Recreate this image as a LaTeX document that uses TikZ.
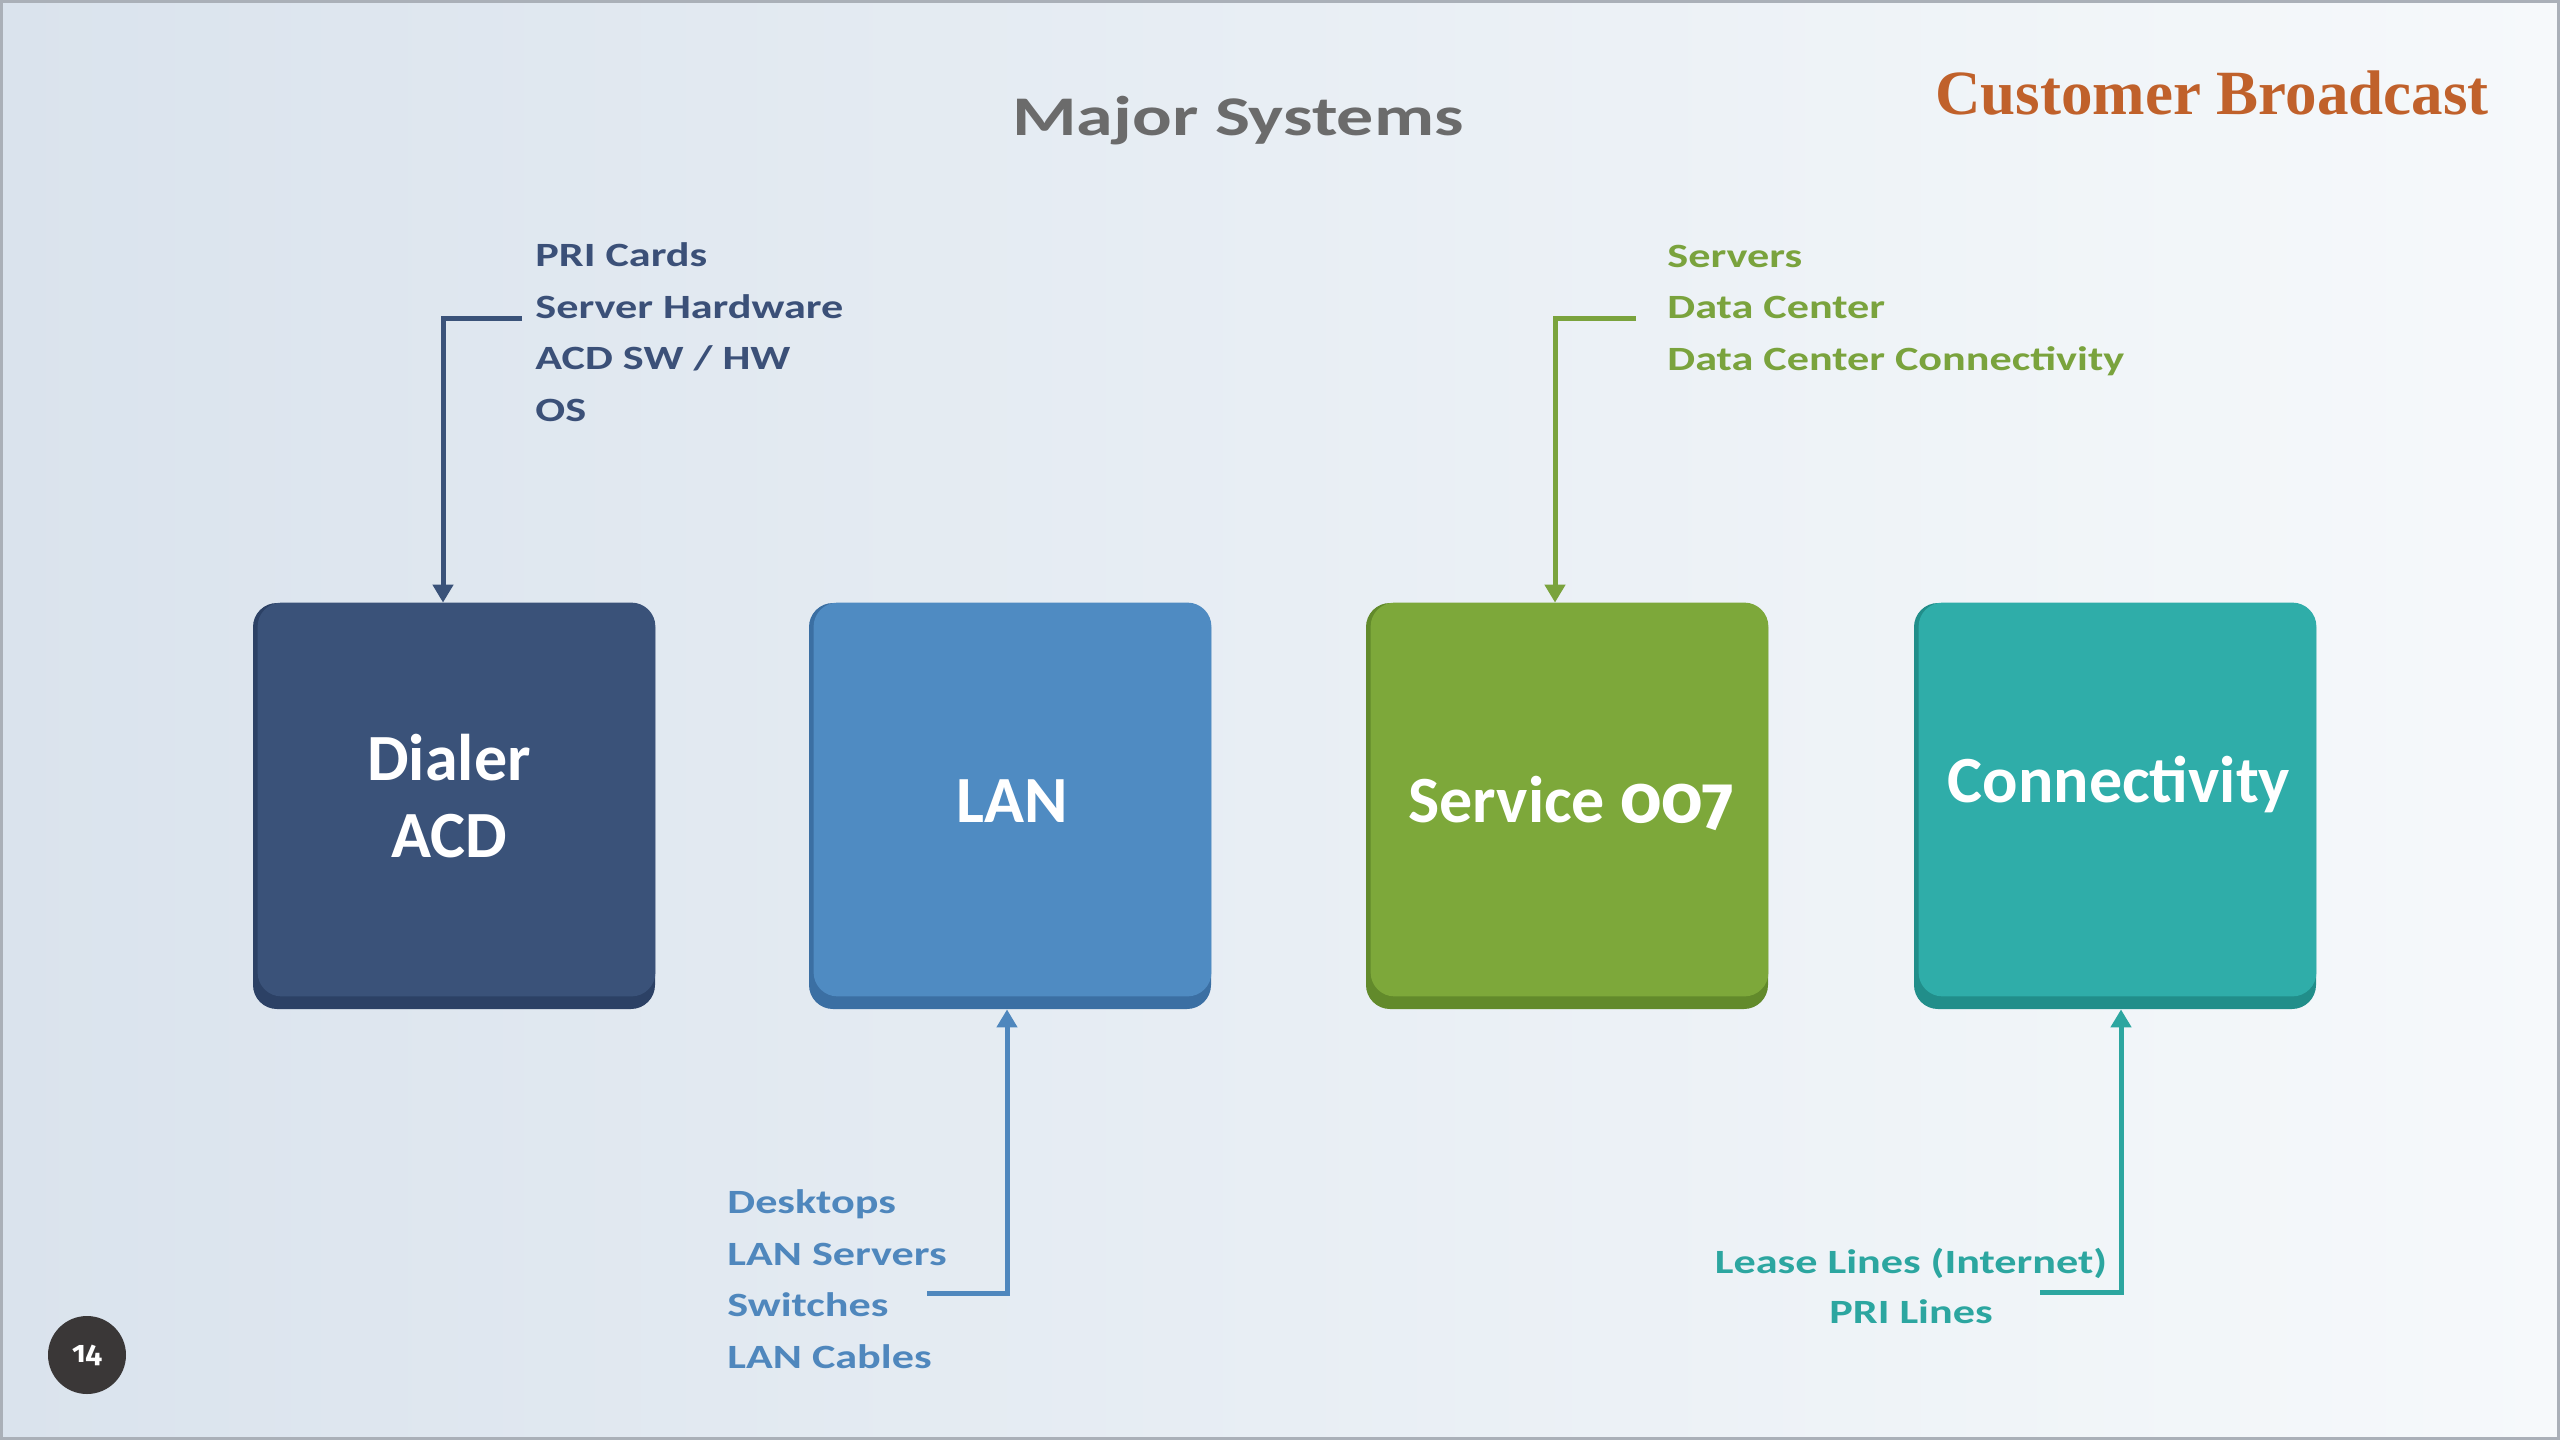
\documentclass[tikz,border=0pt]{standalone}
\usepackage{fontspec}
\setmainfont{Carlito}
\newfontfamily\widefont{Carlito}[FakeStretch=1.3]
\newfontfamily\titlefont{Carlito}[FakeStretch=1.32]
\newfontfamily\numfont{Fira Sans}[Numbers=OldStyle]
\newfontfamily\serifbold{Liberation Serif}
\usetikzlibrary{arrows.meta}
\definecolor{bgL}{RGB}{218,227,237}
\definecolor{bgR}{RGB}{246,249,251}
\definecolor{framec}{RGB}{170,176,184}
\definecolor{dialerF}{HTML}{3A5279}
\definecolor{dialerB}{HTML}{2C4165}
\definecolor{lanF}{HTML}{4F8BC2}
\definecolor{lanB}{HTML}{3B6FA3}
\definecolor{svcF}{HTML}{7DA83A}
\definecolor{svcB}{HTML}{628A2B}
\definecolor{connF}{HTML}{2FADA9}
\definecolor{connB}{HTML}{218E8A}
\definecolor{dialerS}{HTML}{3B5078}
\definecolor{lanS}{HTML}{4F87BD}
\definecolor{svcS}{HTML}{7AA33D}
\definecolor{connS}{HTML}{2CA6A0}
\definecolor{titlegray}{HTML}{6B6B6B}
\definecolor{brand}{HTML}{C0612B}
\definecolor{pgnum}{HTML}{3A3737}
\begin{document}
\begin{tikzpicture}[x=0.5pt,y=-0.5pt,
  sysbox/.style={rectangle, rounded corners=12pt, minimum width=201pt, minimum height=203pt, inner sep=0pt, draw=none},
  boxlbl/.style={text=white, font=\bfseries\fontsize{33}{38.5}\selectfont, align=center, anchor=base, inner sep=0pt},
  sublbl/.style={font=\widefont\bfseries\fontsize{17}{25.75}\selectfont, inner sep=0pt},
  conn/.style={line width=2.5pt, -{Triangle[width=10pt,length=9pt]}}]
\useasboundingbox (0,0) rectangle (2560,1440);
\shade[left color=bgL, right color=bgR] (0,0) rectangle (2560,1440);
\draw[framec, line width=1.5pt] (1.5,1.5) rectangle (2558.5,1438.5);

% title and brand
\node[anchor=base, text=titlegray, font=\titlefont\bfseries\fontsize{28}{30}\selectfont, inner sep=0pt] (title) at (1238,135) {Major Systems};
\node[anchor=base east, text=brand, font=\serifbold\bfseries\fontsize{31.5}{36}\selectfont, inner sep=0pt] (brandT) at (2489,114) {Customer Broadcast};

% boxes
\node[sysbox, fill=dialerB] (dialer) at (454,806) {};
\fill[dialerF, rounded corners=12pt] ([xshift=2.5pt]dialer.north west) rectangle ([yshift=6.5pt]dialer.south east);
\node[sysbox, fill=lanB] (lan) at (1010,806) {};
\fill[lanF, rounded corners=12pt] ([xshift=2.5pt]lan.north west) rectangle ([yshift=6.5pt]lan.south east);
\node[sysbox, fill=svcB] (svc) at (1567,806) {};
\fill[svcF, rounded corners=12pt] ([xshift=2.5pt]svc.north west) rectangle ([yshift=6.5pt]svc.south east);
\node[sysbox, fill=connB] (conn) at (2115,806) {};
\fill[connF, rounded corners=12pt] ([xshift=2.5pt]conn.north west) rectangle ([yshift=6.5pt]conn.south east);

% box labels (base = baseline of the last line)
\node[boxlbl] (dialerT) at (449,857) {Dialer\\ACD};
\node[boxlbl] (lanT) at (1012,822) {LAN};
\node[boxlbl] (svcT) at (1571,822) {Service {\numfont\bfseries 007}};
\node[boxlbl] (connT) at (2119,802) {Connectivity};

% sub labels
\node[sublbl, text=dialerS, align=left, anchor=base west] (dialerL) at (535,421) {PRI Cards\\Server Hardware\\ACD SW / HW\\OS};
\node[sublbl, text=svcS, align=left, anchor=base west] (svcL) at (1667,370) {Servers\\Data Center\\Data Center Connectivity};
\node[sublbl, text=lanS, align=left, anchor=base west] (lanL) at (727,1368) {Desktops\\LAN Servers\\Switches\\LAN Cables};
\node[sublbl, text=connS, align=center, anchor=base, font=\widefont\bfseries\fontsize{17}{25}\selectfont] (connL) at (1911,1323) {Lease Lines (Internet)\\PRI Lines};

% connectors
\coordinate (dialerIn) at (522,318);
\coordinate (svcIn) at (1636,318);
\coordinate (lanIn) at (927,1293);
\coordinate (connIn) at (2040,1292);
\draw[conn, dialerF] (dialerIn) -| ([xshift=-5.5pt]dialer.north);
\draw[conn, svcS] (svcIn) -| ([xshift=-6pt]svc.north);
\draw[conn, lanS] (lanIn) -| ([xshift=-1.5pt]lan.south);
\draw[conn, connS] (connIn) -| ([xshift=3pt]conn.south);

% page number
\node[circle, fill=pgnum, minimum size=39pt, inner sep=0pt, text=white, font=\numfont\bfseries\fontsize{15}{15}\selectfont] (pg) at (87,1355) {14};
\end{tikzpicture}
\end{document}
